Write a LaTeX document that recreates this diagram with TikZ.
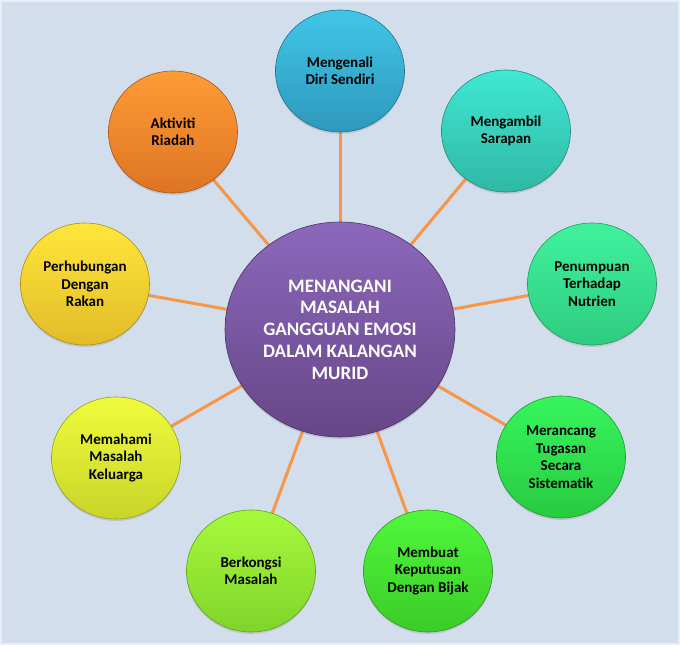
\documentclass[tikz,border=0pt]{standalone}
\usepackage{fontspec}
\setmainfont{Carlito}
\usetikzlibrary{shapes.geometric,shadows}
\pgfdeclarelayer{bg}
\pgfdeclarelayer{lines}
\pgfsetlayers{bg,lines,main}
\definecolor{bgfill}{HTML}{D2DEEC}
\definecolor{bgedge}{HTML}{E8EEF5}
\definecolor{conn}{HTML}{F79646}
\tikzset{
  bubble/.style n args={2}{ellipse, minimum width=129pt, minimum height=122pt, inner sep=0pt,
    top color=#1, bottom color=#2, draw=#2!75!black, line width=0.6pt,
    align=center, font=\fontsize{15}{17.5}\selectfont\bfseries, text=black,
    drop shadow={opacity=0.25, shadow xshift=0pt, shadow yshift=-2pt}},
  hub/.style={ellipse, minimum width=230pt, minimum height=215pt, inner sep=0pt,
    top color=hubtop, bottom color=hubbot, draw=hubbot!75!black, line width=0.6pt,
    align=center, font=\fontsize{19}{21.7}\selectfont\bfseries, text=white,
    drop shadow={opacity=0.25, shadow xshift=0pt, shadow yshift=-2pt}},
  link/.style={draw=conn, line width=3pt}
}
\definecolor{hubtop}{HTML}{8C68BC}
\definecolor{hubbot}{HTML}{664687}
\definecolor{c1t}{HTML}{40C6E8}\definecolor{c1b}{HTML}{2E98BC}
\definecolor{c2t}{HTML}{40E8D2}\definecolor{c2b}{HTML}{2FB8A6}
\definecolor{c3t}{HTML}{40F29C}\definecolor{c3b}{HTML}{2ECC80}
\definecolor{c4t}{HTML}{36F65C}\definecolor{c4b}{HTML}{28CA40}
\definecolor{c5t}{HTML}{50F83C}\definecolor{c5b}{HTML}{3CCC28}
\definecolor{c6t}{HTML}{A6FA3C}\definecolor{c6b}{HTML}{80D42A}
\definecolor{c7t}{HTML}{F0FC3C}\definecolor{c7b}{HTML}{C8D428}
\definecolor{c8t}{HTML}{FFE63A}\definecolor{c8b}{HTML}{E2BC28}
\definecolor{c9t}{HTML}{FF9C36}\definecolor{c9b}{HTML}{DE7424}
\begin{document}
\begin{tikzpicture}[x=1pt,y=-1pt]
\begin{pgfonlayer}{bg}
\path[fill=bgfill, draw=bgedge, line width=2pt] (1,1) rectangle (679,644);
\end{pgfonlayer}
\useasboundingbox (0,0) rectangle (680,645);
\node[hub] (hub) at (340,329.5) {MENANGANI\\MASALAH\\GANGGUAN EMOSI\\DALAM KALANGAN\\MURID};
\node[bubble={c1t}{c1b}] (n1) at (340,71) {Mengenali\\Diri Sendiri};
\node[bubble={c2t}{c2b}] (n2) at (506,131) {Mengambil\\Sarapan};
\node[bubble={c3t}{c3b}] (n3) at (592,284) {Penumpuan\\Terhadap\\Nutrien};
\node[bubble={c4t}{c4b}] (n4) at (561,457) {Merancang\\Tugasan\\Secara\\Sistematik};
\node[bubble={c5t}{c5b}] (n5) at (428,571) {Membuat\\Keputusan\\Dengan Bijak};
\node[bubble={c6t}{c6b}] (n6) at (251,571) {Berkongsi\\Masalah};
\node[bubble={c7t}{c7b}] (n7) at (116,458) {Memahami\\Masalah\\Keluarga};
\node[bubble={c8t}{c8b}] (n8) at (85,284) {Perhubungan\\Dengan\\Rakan};
\node[bubble={c9t}{c9b}] (n9) at (173,132) {Aktiviti\\Riadah};
\begin{pgfonlayer}{lines}
\foreach \n in {n1,n2,n3,n4,n5,n6,n7,n8,n9}
  \draw[link] (hub.center) -- (\n.center);
\end{pgfonlayer}
\end{tikzpicture}
\end{document}
